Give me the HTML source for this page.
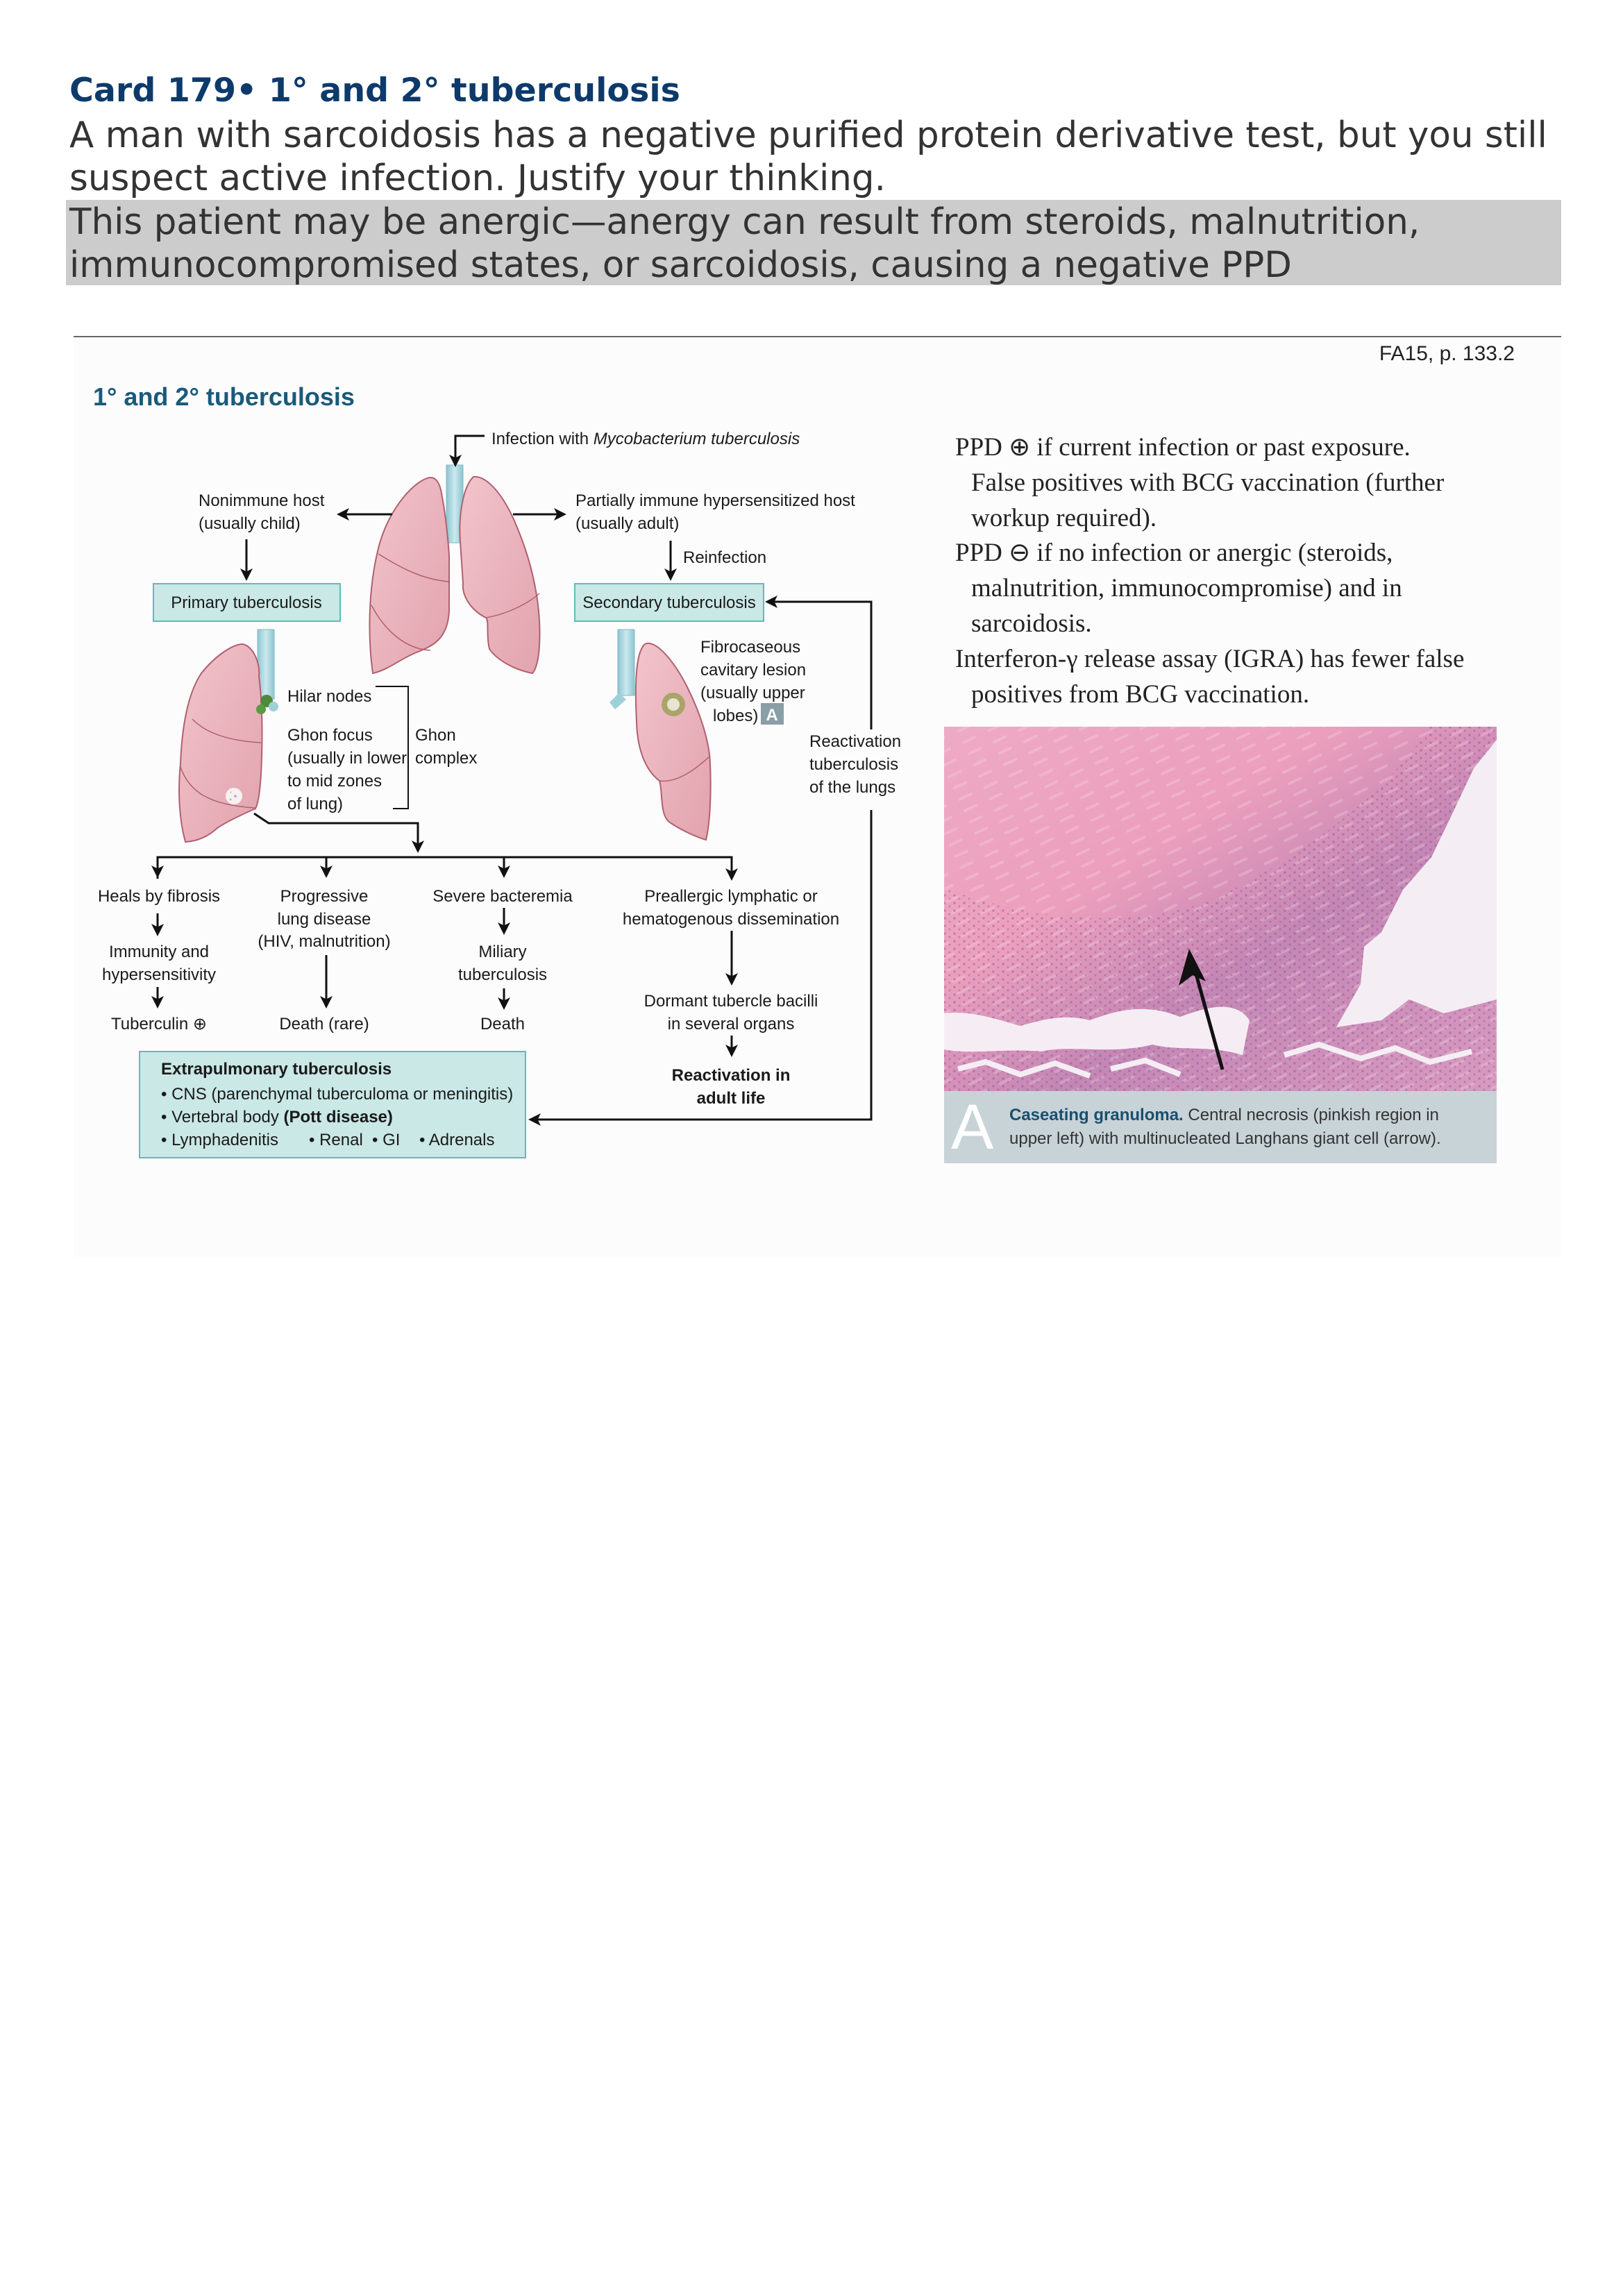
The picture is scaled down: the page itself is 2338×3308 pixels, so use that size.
<!DOCTYPE html>
<html><head><meta charset="utf-8">
<style>
html,body{margin:0;padding:0;background:#fff;}
body{width:2338px;height:3308px;position:relative;overflow:hidden;}
.t{position:absolute;left:100px;font-family:"DejaVu Sans","Liberation Sans",sans-serif;font-size:51.5px;line-height:62px;color:#333;white-space:nowrap;}
#title{top:100px;font-weight:bold;color:#0d3a6b;font-size:47.5px;}
#q{top:164px;}
#ans{position:absolute;left:95px;top:288px;width:2154px;height:123px;background:#cccccc;}
#ansText{top:289px;}
#rule{position:absolute;left:106px;top:484px;width:2143px;height:2px;background:#666;}
svg{position:absolute;left:0;top:0;}
</style></head><body>
<div class="t" id="title">Card 179• 1° and 2° tuberculosis</div>
<div class="t" id="q">A man with sarcoidosis has a negative purified protein derivative test, but you still<br>suspect active infection. Justify your thinking.</div>
<div id="ans"></div>
<div class="t" id="ansText">This patient may be anergic—anergy can result from steroids, malnutrition,<br>immunocompromised states, or sarcoidosis, causing a negative PPD</div>
<div id="rule"></div>

<svg width="2338" height="3308" viewBox="0 0 2338 3308">
<defs>
<marker id="ah" markerWidth="6" markerHeight="6" refX="5" refY="3" orient="auto" markerUnits="strokeWidth"><path d="M0,0 L6,3 L0,6 L1.5,3 Z" fill="#111"/></marker>
<linearGradient id="lung" x1="0" y1="0" x2="1" y2="1"><stop offset="0" stop-color="#f2c4cb"/><stop offset="1" stop-color="#e2a3ae"/></linearGradient>
<linearGradient id="trach" x1="0" y1="0" x2="1" y2="0"><stop offset="0" stop-color="#8cc5d0"/><stop offset="0.5" stop-color="#cbe9ee"/><stop offset="1" stop-color="#8cc5d0"/></linearGradient>
<linearGradient id="histo" x1="0" y1="0" x2="1" y2="1"><stop offset="0" stop-color="#eeaac4"/><stop offset="0.35" stop-color="#ec9fbd"/><stop offset="0.6" stop-color="#c486b4"/><stop offset="1" stop-color="#d99ac0"/></linearGradient>
<pattern id="dots" width="14" height="11" patternUnits="userSpaceOnUse"><circle cx="3" cy="3" r="1.8" fill="#7a4c94" opacity="0.5"/><circle cx="10" cy="8" r="1.5" fill="#6b3f88" opacity="0.4"/></pattern>
<pattern id="streaks" width="40" height="18" patternUnits="userSpaceOnUse" patternTransform="rotate(-25)"><rect x="4" y="6" width="22" height="4" rx="2" fill="#fbe3ea" opacity="0.7"/></pattern>
</defs>

<rect x="106" y="487" width="2143" height="1324" fill="#fcfcfc"/>
<text x="2182" y="519" text-anchor="end" font-family="Liberation Sans, sans-serif" font-size="30" fill="#222">FA15, p. 133.2</text>
<text x="134" y="584" font-family="Liberation Sans, sans-serif" font-weight="bold" font-size="36" fill="#1a5a7a">1° and 2° tuberculosis</text>

<g font-family="Liberation Sans Narrow, Liberation Sans, sans-serif" font-size="24" fill="#1a1a1a">
 <g>
  <rect x="643" y="670" width="24" height="112" fill="url(#trach)" stroke="#7fb8c4" stroke-width="1"/>
  <path d="M620,688 C600,690 560,730 545,790 C530,850 530,920 537,970 C560,965 575,950 600,940 C625,930 645,920 647,880 L647,800 C645,770 640,730 637,717 C635,700 630,688 620,688 Z" fill="url(#lung)" stroke="#b0606f" stroke-width="2"/>
  <path d="M682,687 C700,685 725,710 745,760 C770,820 780,880 777,930 C776,950 772,965 767,970 C740,965 715,950 705,935 C700,915 705,895 700,890 C680,880 665,860 667,840 L663,780 C660,740 668,700 682,687 Z" fill="url(#lung)" stroke="#b0606f" stroke-width="2"/>
  <path d="M545,798 C580,820 610,835 647,838 M535,872 C555,910 585,935 620,937 M700,890 C730,885 760,870 777,855" fill="none" stroke="#b0606f" stroke-width="1.5"/>
 </g>
 <g>
  <rect x="371" y="907" width="24" height="100" fill="url(#trach)" stroke="#7fb8c4"/>
  <path d="M350,928 C365,932 375,955 373,975 C378,1010 378,1060 377,1090 C376,1130 373,1155 368,1165 C345,1175 325,1185 313,1193 C300,1205 285,1212 267,1213 C258,1180 256,1140 260,1100 C262,1050 270,1000 290,970 C310,945 335,928 350,928 Z" fill="url(#lung)" stroke="#b0606f" stroke-width="2"/>
  <path d="M277,1036 C300,1060 340,1068 376,1070 M260,1105 C272,1140 300,1160 368,1164" fill="none" stroke="#b0606f" stroke-width="1.5"/>
  <circle cx="384" cy="1010" r="9" fill="#4f8a3a"/><circle cx="376" cy="1022" r="7" fill="#5b9a44"/><circle cx="394" cy="1018" r="7" fill="#9fd0da"/>
  <circle cx="337" cy="1147" r="12" fill="#f7f1f1"/><circle cx="337" cy="1147" r="8" fill="url(#dots)"/>
 </g>
 <g>
  <rect x="890" y="907" width="24" height="95" fill="url(#trach)" stroke="#7fb8c4"/>
  <path d="M892,998 L878,1012 L886,1022 L902,1008 Z" fill="#9fd0da"/>
  <path d="M932,927 C950,925 975,960 990,990 C1010,1030 1022,1070 1023,1100 C1025,1150 1022,1190 1017,1210 C1000,1205 980,1195 965,1185 C950,1175 955,1140 950,1125 C930,1110 918,1080 917,1040 C915,1000 915,960 922,940 C925,932 928,927 932,927 Z" fill="url(#lung)" stroke="#b0606f" stroke-width="2"/>
  <path d="M950,1125 C975,1128 1000,1110 1022,1090" fill="none" stroke="#b0606f" stroke-width="1.5"/>
  <circle cx="970" cy="1015" r="17" fill="#a9a46a"/><circle cx="970" cy="1015" r="9" fill="#e8e4d0"/>
 </g>

 <g stroke="#111" stroke-width="3" fill="none">
  <path d="M698,628 L656,628 L656,670" marker-end="url(#ah)"/>
  <path d="M565,741 L488,741" marker-end="url(#ah)"/>
  <path d="M739,741 L813,741" marker-end="url(#ah)"/>
  <path d="M355,777 L355,834" marker-end="url(#ah)"/>
  <path d="M966,779 L966,834" marker-end="url(#ah)"/>
  <path d="M1255,1051 L1255,867 L1105,867" marker-end="url(#ah)"/>
  <path d="M1255,1167 L1255,1613 L764,1613" marker-end="url(#ah)"/>
  <path d="M541,989 L588,989 L588,1165 L566,1165" stroke-width="2"/>
  <path d="M366,1172 L387,1186 L602,1186 L602,1226" marker-end="url(#ah)"/>
  <path d="M227,1266 L227,1235 L1054,1235 L1054,1266" marker-end="url(#ah)"/>
  <path d="M227,1235 L227,1262" marker-end="url(#ah)"/>
  <path d="M470,1235 L470,1262" marker-end="url(#ah)"/>
  <path d="M726,1235 L726,1262" marker-end="url(#ah)"/>
  <path d="M227,1316 L227,1346" marker-end="url(#ah)"/>
  <path d="M227,1422 L227,1450" marker-end="url(#ah)"/>
  <path d="M470,1376 L470,1450" marker-end="url(#ah)"/>
  <path d="M726,1308 L726,1344" marker-end="url(#ah)"/>
  <path d="M726,1424 L726,1452" marker-end="url(#ah)"/>
  <path d="M1054,1341 L1054,1417" marker-end="url(#ah)"/>
  <path d="M1054,1492 L1054,1520" marker-end="url(#ah)"/>
 </g>

 <rect x="221" y="841" width="269" height="54" fill="#c9e8e6" stroke="#5fbcb6" stroke-width="2"/>
 <text x="355" y="876" text-anchor="middle">Primary tuberculosis</text>
 <rect x="828" y="841" width="272" height="54" fill="#c9e8e6" stroke="#5fbcb6" stroke-width="2"/>
 <text x="964" y="876" text-anchor="middle">Secondary tuberculosis</text>

 <text x="708" y="640">Infection with <tspan font-style="italic">Mycobacterium tuberculosis</tspan></text>
 <text x="286" y="729"><tspan x="286">Nonimmune host</tspan><tspan x="286" dy="33">(usually child)</tspan></text>
 <text x="829" y="729"><tspan x="829">Partially immune hypersensitized host</tspan><tspan x="829" dy="33">(usually adult)</tspan></text>
 <text x="984" y="811">Reinfection</text>
 <text x="1009" y="940"><tspan x="1009">Fibrocaseous</tspan><tspan x="1009" dy="33">cavitary lesion</tspan><tspan x="1009" dy="33">(usually upper</tspan><tspan x="1027" dy="33">lobes)</tspan></text>
 <rect x="1096" y="1013" width="33" height="31" fill="#8a9ea8"/>
 <text x="1112" y="1038" text-anchor="middle" fill="#fff" font-weight="bold" font-family="Liberation Sans, sans-serif">A</text>
 <text x="1166" y="1076"><tspan x="1166">Reactivation</tspan><tspan x="1166" dy="33">tuberculosis</tspan><tspan x="1166" dy="33">of the lungs</tspan></text>
 <text x="414" y="1011">Hilar nodes</text>
 <text x="414" y="1067"><tspan x="414">Ghon focus</tspan><tspan x="414" dy="33">(usually in lower</tspan><tspan x="414" dy="33">to mid zones</tspan><tspan x="414" dy="33">of lung)</tspan></text>
 <text x="598" y="1067"><tspan x="598">Ghon</tspan><tspan x="598" dy="33">complex</tspan></text>

 <g text-anchor="middle">
  <text x="229" y="1299">Heals by fibrosis</text>
  <text x="229" y="1379"><tspan x="229">Immunity and</tspan><tspan x="229" dy="33">hypersensitivity</tspan></text>
  <text x="229" y="1483">Tuberculin ⊕</text>
  <text x="467" y="1299"><tspan x="467">Progressive</tspan><tspan x="467" dy="33">lung disease</tspan><tspan x="467" dy="32">(HIV, malnutrition)</tspan></text>
  <text x="467" y="1483">Death (rare)</text>
  <text x="724" y="1299">Severe bacteremia</text>
  <text x="724" y="1379"><tspan x="724">Miliary</tspan><tspan x="724" dy="33">tuberculosis</tspan></text>
  <text x="724" y="1483">Death</text>
  <text x="1053" y="1299"><tspan x="1053">Preallergic lymphatic or</tspan><tspan x="1053" dy="33">hematogenous dissemination</tspan></text>
  <text x="1053" y="1450"><tspan x="1053">Dormant tubercle bacilli</tspan><tspan x="1053" dy="33">in several organs</tspan></text>
  <text x="1053" y="1557" font-weight="bold"><tspan x="1053">Reactivation in</tspan><tspan x="1053" dy="33">adult life</tspan></text>
 </g>

 <rect x="201" y="1515" width="556" height="153" fill="#c9e8e6" stroke="#5fbcb6" stroke-width="2"/>
 <text x="232" y="1548" font-weight="bold">Extrapulmonary tuberculosis</text>
 <text x="232" y="1584">• CNS (parenchymal tuberculoma or meningitis)</text>
 <text x="232" y="1617">• Vertebral body <tspan font-weight="bold">(Pott disease)</tspan></text>
 <text x="232" y="1650">• Lymphadenitis <tspan x="445">• Renal</tspan><tspan x="536">• GI</tspan><tspan x="604">• Adrenals</tspan></text>
</g>

<g font-family="Liberation Serif, serif" font-size="37" fill="#222">
 <text x="1376" y="656">PPD ⊕ if current infection or past exposure.</text>
 <text x="1399" y="707">False positives with BCG vaccination (further</text>
 <text x="1399" y="758">workup required).</text>
 <text x="1376" y="808">PPD ⊖ if no infection or anergic (steroids,</text>
 <text x="1399" y="859">malnutrition, immunocompromise) and in</text>
 <text x="1399" y="910">sarcoidosis.</text>
 <text x="1376" y="961">Interferon-γ release assay (IGRA) has fewer false</text>
 <text x="1399" y="1012">positives from BCG vaccination.</text>
</g>

<g>
 <rect x="1360" y="1047" width="796" height="525" fill="url(#histo)"/>
 <rect x="1360" y="1047" width="796" height="525" fill="url(#streaks)" opacity="0.35"/>
 <path d="M1360,1280 C1500,1330 1650,1340 1760,1290 C1880,1230 1990,1150 2060,1047 L2156,1047 L2156,1572 L1360,1572 Z" fill="url(#dots)" opacity="0.8"/>
 <path d="M2156,1066 L2123,1107 L2088,1181 L2062,1235 L2021,1282 L1990,1343 L1965,1364 L1960,1418 L1925,1480 L1990,1470 L2030,1440 L2080,1460 L2156,1440 Z" fill="#f4eef4"/>
 <path d="M1360,1460 C1400,1455 1440,1470 1470,1478 C1500,1470 1530,1460 1570,1470 C1610,1455 1650,1445 1700,1465 C1740,1450 1780,1440 1800,1470 L1790,1520 C1740,1505 1700,1515 1660,1505 C1600,1520 1540,1505 1500,1515 C1450,1510 1400,1520 1360,1512 Z" fill="#f5edf3"/>
 <path d="M1380,1540 L1420,1530 L1470,1548 L1520,1532 L1570,1550 M1600,1540 L1650,1528 L1700,1548 M1850,1520 L1900,1505 L1960,1525 L2010,1510 L2060,1530 L2120,1515" stroke="#f4eef4" stroke-width="8" fill="none"/>
 <line x1="1761" y1="1541" x2="1716" y2="1378" stroke="#111" stroke-width="5"/>
 <path d="M1713,1367 L1698,1420 L1718,1405 L1737,1414 Z" fill="#111"/>
 <rect x="1360" y="1572" width="796" height="104" fill="#c8d3d8"/>
 <text x="1370" y="1655" font-family="Liberation Sans, sans-serif" font-size="92" fill="#fff">A</text>
 <text x="1454" y="1614" font-family="Liberation Sans Narrow, Liberation Sans, sans-serif" font-size="24" fill="#333"><tspan font-weight="bold" fill="#1a4f6e">Caseating granuloma.</tspan> Central necrosis (pinkish region in<tspan x="1454" dy="34">upper left) with multinucleated Langhans giant cell (arrow).</tspan></text>
</g>
</svg>
</body></html>
